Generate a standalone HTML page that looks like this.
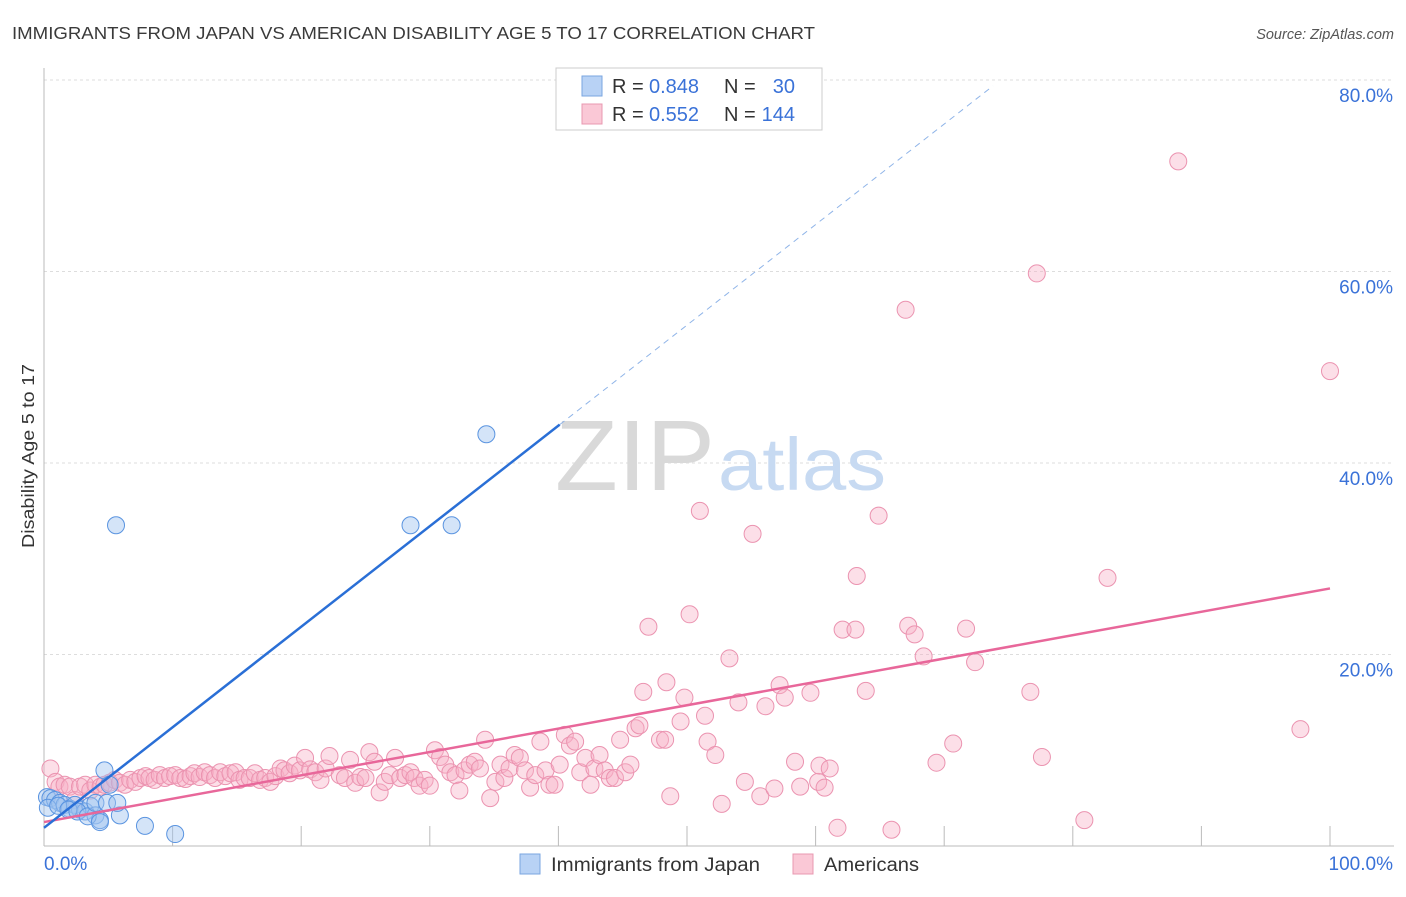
<!DOCTYPE html>
<html><head><meta charset="utf-8"><style>
body{margin:0;background:#fff;font-family:"Liberation Sans",sans-serif;}
svg text{font-family:"Liberation Sans",sans-serif;}
</style></head><body>
<svg width="1406" height="892" xmlns="http://www.w3.org/2000/svg">
<text x="12" y="39" font-size="17.5" fill="#3a3a3a" textLength="803" lengthAdjust="spacingAndGlyphs">IMMIGRANTS FROM JAPAN VS AMERICAN DISABILITY AGE 5 TO 17 CORRELATION CHART</text>
<text x="1394" y="39" font-size="14.5" fill="#555" font-style="italic" text-anchor="end">Source: ZipAtlas.com</text>
<text transform="translate(34,456) rotate(-90)" font-size="17.5" fill="#333" text-anchor="middle" textLength="184" lengthAdjust="spacingAndGlyphs">Disability Age 5 to 17</text>
<g id="grid"></g>
<g>
<text x="635" y="490" font-size="100" font-family="Liberation Serif" fill="#d9d9d9" text-anchor="middle" textLength="160" lengthAdjust="spacingAndGlyphs">ZIP</text>
<text x="802" y="490" font-size="74" fill="#c7daf2" text-anchor="middle" textLength="168" lengthAdjust="spacingAndGlyphs">atlas</text>
</g>
<g id="marks"></g>
<g>
<rect x="556" y="68" width="266" height="62" fill="#fff" stroke="#ccc"/>
<rect x="582" y="76" width="20" height="20" fill="#b8d2f5" stroke="#7aa6e0"/>
<rect x="582" y="104" width="20" height="20" fill="#fac8d6" stroke="#e898b0"/>
<text x="612" y="93" font-size="20" fill="#333">R =</text>
<text x="649" y="93" font-size="20" fill="#3a72d8">0.848</text>
<text x="724" y="93" font-size="20" fill="#333">N =</text>
<text x="795" y="93" font-size="20" fill="#3a72d8" text-anchor="end">30</text>
<text x="612" y="121" font-size="20" fill="#333">R =</text>
<text x="649" y="121" font-size="20" fill="#3a72d8">0.552</text>
<text x="724" y="121" font-size="20" fill="#333">N =</text>
<text x="795" y="121" font-size="20" fill="#3a72d8" text-anchor="end">144</text>
</g>
<g>
<rect x="520" y="854" width="20" height="20" fill="#b8d2f5" stroke="#7aa6e0"/>
<text x="551" y="871" font-size="19" fill="#333" textLength="209" lengthAdjust="spacingAndGlyphs">Immigrants from Japan</text>
<rect x="793" y="854" width="20" height="20" fill="#fac8d6" stroke="#e898b0"/>
<text x="824" y="871" font-size="19" fill="#333" textLength="95" lengthAdjust="spacingAndGlyphs">Americans</text>
</g>
</svg>
<script>
const yTicks=[20,40,60,80];
const xTickCount=10;
const blueX=[0.23,0.5,0.86,1.24,1.6,2.0,2.4,2.8,3.2,3.6,4.0,4.35,4.7,5.1,5.6,5.9,7.85,10.2,28.5,31.7,34.4,0.3,1.1,1.9,2.6,3.4,4.35,4.0,4.9,5.7];
const blueY=[5.1,5.0,4.8,4.5,4.3,3.9,4.3,3.8,3.6,4.2,3.2,2.7,7.9,6.4,33.5,3.2,2.1,1.25,33.5,33.5,43.0,4.0,4.2,3.8,3.6,3.1,2.5,4.5,4.5,4.5];
const pinkX=[0.5,0.9,1.2,1.6,2.0,2.4,2.8,3.2,3.6,4.0,4.4,4.7,5.1,5.5,5.9,6.3,6.7,7.1,7.5,7.9,8.2,8.6,9.0,9.4,9.8,10.2,10.6,11.0,11.4,11.7,12.1,12.5,12.9,13.3,13.7,14.1,14.5,14.9,15.2,15.6,16.0,16.4,16.8,17.2,17.6,18.0,18.4,18.7,19.1,19.5,19.9,20.3,20.7,21.1,21.5,21.9,22.2,23.0,23.4,23.8,24.2,24.6,25.0,25.3,25.7,26.1,26.5,26.9,27.3,27.7,28.1,28.5,28.8,29.2,29.6,30.0,30.4,30.8,31.2,31.6,32.0,32.3,32.7,33.1,33.5,33.9,34.3,34.7,35.1,35.5,35.8,36.2,36.6,37.0,37.4,37.8,38.2,38.6,39.0,39.3,39.7,40.1,40.5,40.9,41.3,41.7,42.1,42.5,42.8,43.2,43.6,44.0,44.4,44.8,45.2,45.6,46.0,46.3,46.6,47.0,47.9,48.3,48.4,48.7,49.5,49.8,50.2,51.0,51.4,51.6,52.2,52.7,53.3,54.0,54.5,55.1,55.7,56.1,56.8,57.2,57.6,58.4,58.8,59.6,60.2,60.3,60.7,61.1,61.7,62.1,63.1,63.2,63.9,64.9,65.9,67.0,67.2,67.7,68.4,69.4,70.7,71.7,72.4,76.7,77.2,77.6,80.9,82.7,88.2,97.7,100];
const pinkY=[8.1,6.7,6.2,6.4,6.2,4.8,6.2,6.4,5.8,6.4,6.2,6.4,6.6,6.9,6.6,6.4,6.9,6.7,7.1,7.3,7.1,6.9,7.4,7.1,7.3,7.4,7.1,7.0,7.3,7.6,7.2,7.7,7.4,7.1,7.7,7.3,7.6,7.7,6.9,7.1,7.1,7.6,6.9,7.1,6.7,7.3,8.1,7.9,7.6,8.4,7.9,9.2,8.0,7.7,6.9,8.1,9.4,7.4,7.1,9.0,6.6,7.2,7.1,9.8,8.8,5.6,6.7,7.4,9.2,7.1,7.4,7.7,7.1,6.3,6.9,6.3,10.0,9.3,8.5,7.7,7.4,5.8,7.9,8.5,8.8,8.1,11.1,5.0,6.7,8.5,7.1,8.1,9.5,9.2,7.9,6.1,7.4,10.9,7.9,6.4,6.4,8.5,11.6,10.5,10.9,7.7,9.2,6.4,8.1,9.5,7.9,7.1,7.1,11.1,7.7,8.5,12.3,12.6,16.1,22.9,11.1,11.1,17.1,5.2,13.0,15.5,24.2,35.0,13.6,10.9,9.5,4.4,19.6,15.0,6.7,32.6,5.2,14.6,6.0,16.8,15.5,8.8,6.2,16.0,6.7,8.4,6.1,8.1,1.9,22.6,22.6,28.2,16.2,34.5,1.7,56.0,23.0,22.1,19.8,8.7,10.7,22.7,19.2,16.1,59.8,9.3,2.7,28.0,71.5,12.2,49.6];
const blueLine=[1.9,1.05];
const blueSolidEnd=40.1, blueDashEnd=73.8;
const pinkLine=[2.5,0.244];

const X=v=>44+v*12.86, Y=v=>846-v*9.575;
const NS='http://www.w3.org/2000/svg';
function mk(tag,attrs,parent){const e=document.createElementNS(NS,tag);for(const k in attrs)e.setAttribute(k,attrs[k]);parent.appendChild(e);return e;}
const grid=document.getElementById('grid'), marks=document.getElementById('marks');
yTicks.forEach(t=>{
  const l=mk('line',{x1:44,x2:1394,y1:Y(t),y2:Y(t),stroke:'#ddd','stroke-dasharray':'3,3'},grid);
  
  
  const tx=mk('text',{x:1393,y:Y(t)+22,'font-size':19,fill:'#3a72d8','text-anchor':'end'},grid);
  tx.textContent=t.toFixed(1)+'%';
  
  
});
const ax=mk('line',{x1:44,x2:44,y1:68,y2:846,stroke:'#bbb'},grid);


const bx=mk('line',{x1:44,x2:1394,y1:846,y2:846,stroke:'#bbb'},grid);


for(let i=1;i<=xTickCount;i++){
  const t=mk('line',{x1:X(i*10),x2:X(i*10),y1:826,y2:846,stroke:'#bbb'},grid);
  
  
}
const x0=mk('text',{x:44,y:870,'font-size':19,fill:'#3a72d8'},grid);x0.textContent='0.0%';


const x1=mk('text',{x:1393,y:870,'font-size':19,fill:'#3a72d8','text-anchor':'end'},grid);x1.textContent='100.0%';



pinkX.forEach((v,i)=>{
  const c=mk('circle',{cx:X(v),cy:Y(pinkY[i]),r:8.5,fill:'rgba(248,175,198,0.4)',stroke:'#eb93b0','stroke-width':1},marks);
  
  
});
blueX.forEach((v,i)=>{
  const c=mk('circle',{cx:X(v),cy:Y(blueY[i]),r:8.5,fill:'rgba(160,195,240,0.45)',stroke:'#5a94e0','stroke-width':1},marks);
  
  
});
const pl=mk('line',{x1:X(0),y1:Y(pinkLine[0]),x2:X(100),y2:Y(pinkLine[0]+pinkLine[1]*100),stroke:'#e8679a','stroke-width':2.5},marks);


const bl=mk('line',{x1:X(0),y1:Y(blueLine[0]),x2:X(blueSolidEnd),y2:Y(blueLine[0]+blueLine[1]*blueSolidEnd),stroke:'#2a6fd6','stroke-width':2.5},marks);


const bd=mk('line',{x1:X(blueSolidEnd),y1:Y(blueLine[0]+blueLine[1]*blueSolidEnd),x2:X(blueDashEnd),y2:Y(blueLine[0]+blueLine[1]*blueDashEnd),stroke:'#8fb4e8','stroke-width':1,'stroke-dasharray':'6,5'},marks);


</script>
</body></html>
